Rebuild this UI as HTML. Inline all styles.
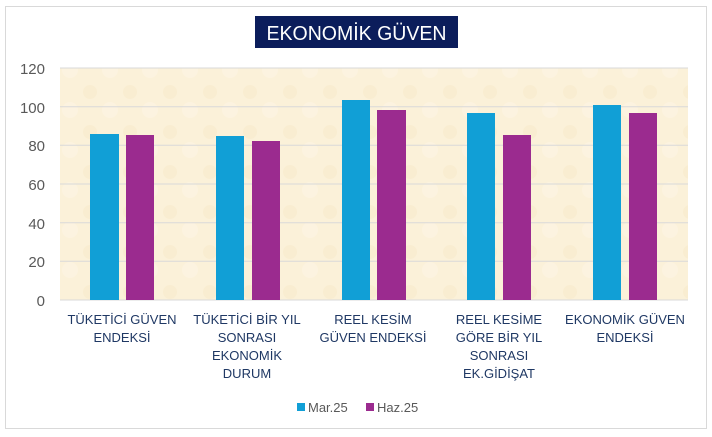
<!DOCTYPE html><html><head><meta charset="utf-8"><style>body{margin:0;background:#fff}text{font-family:"Liberation Sans",sans-serif}</style></head><body>
<svg width="712" height="432" xmlns="http://www.w3.org/2000/svg">
<defs><pattern id="p" width="40" height="40" patternUnits="userSpaceOnUse"><rect width="40" height="40" fill="#fbf1d9"/><circle cx="10" cy="12" r="7" fill="#f8ebcc" opacity=".6"/><circle cx="30" cy="30" r="8" fill="#fdf5e4" opacity=".6"/></pattern></defs>
<rect x="5.5" y="6.5" width="701" height="422" fill="#fff" stroke="#d9d9d9"/>
<rect x="255" y="16" width="203" height="32" fill="#0b1d5b"/>
<text x="356.5" y="40" font-size="20" fill="#fff" text-anchor="middle" textLength="180" lengthAdjust="spacingAndGlyphs">EKONOMİK GÜVEN</text>
<rect x="60" y="68" width="628" height="232" fill="url(#p)"/>
<g stroke="#d9d9d9"><line x1="60" x2="688" y1="68" y2="68"/><line x1="60" x2="688" y1="106.7" y2="106.7"/><line x1="60" x2="688" y1="145.3" y2="145.3"/><line x1="60" x2="688" y1="184" y2="184"/><line x1="60" x2="688" y1="222.7" y2="222.7"/><line x1="60" x2="688" y1="261.3" y2="261.3"/><line x1="60" x2="688" y1="300" y2="300"/></g>
<g font-size="15" fill="#595959" text-anchor="end"><text x="45" y="74">120</text><text x="45" y="113">100</text><text x="45" y="151">80</text><text x="45" y="190">60</text><text x="45" y="229">40</text><text x="45" y="267">20</text><text x="45" y="306">0</text></g>
<g fill="#119fd6"><rect x="90" y="134" width="29" height="166"/><rect x="216" y="136" width="28" height="164"/><rect x="342" y="100" width="28" height="200"/><rect x="467" y="113" width="28" height="187"/><rect x="593" y="105" width="28" height="195"/></g>
<g fill="#9b2b8f"><rect x="126" y="135" width="28" height="165"/><rect x="252" y="141" width="28" height="159"/><rect x="377" y="110" width="29" height="190"/><rect x="503" y="135" width="28" height="165"/><rect x="629" y="113" width="28" height="187"/></g>
<g font-size="13" fill="#1f3864" text-anchor="middle">
<text x="122" y="324">TÜKETİCİ GÜVEN</text><text x="122" y="342">ENDEKSİ</text>
<text x="247" y="324">TÜKETİCİ BİR YIL</text><text x="247" y="342">SONRASI</text><text x="247" y="360">EKONOMİK</text><text x="247" y="378">DURUM</text>
<text x="373" y="324">REEL KESİM</text><text x="373" y="342">GÜVEN ENDEKSİ</text>
<text x="499" y="324">REEL KESİME</text><text x="499" y="342">GÖRE  BİR YIL</text><text x="499" y="360">SONRASI</text><text x="499" y="378">EK.GİDİŞAT</text>
<text x="625" y="324">EKONOMİK GÜVEN</text><text x="625" y="342">ENDEKSİ</text></g>
<rect x="297" y="403" width="8" height="8" fill="#119fd6"/><text x="308" y="412" font-size="13" fill="#595959">Mar.25</text>
<rect x="366" y="403" width="8" height="8" fill="#9b2b8f"/><text x="377" y="412" font-size="13" fill="#595959">Haz.25</text>
</svg></body></html>
